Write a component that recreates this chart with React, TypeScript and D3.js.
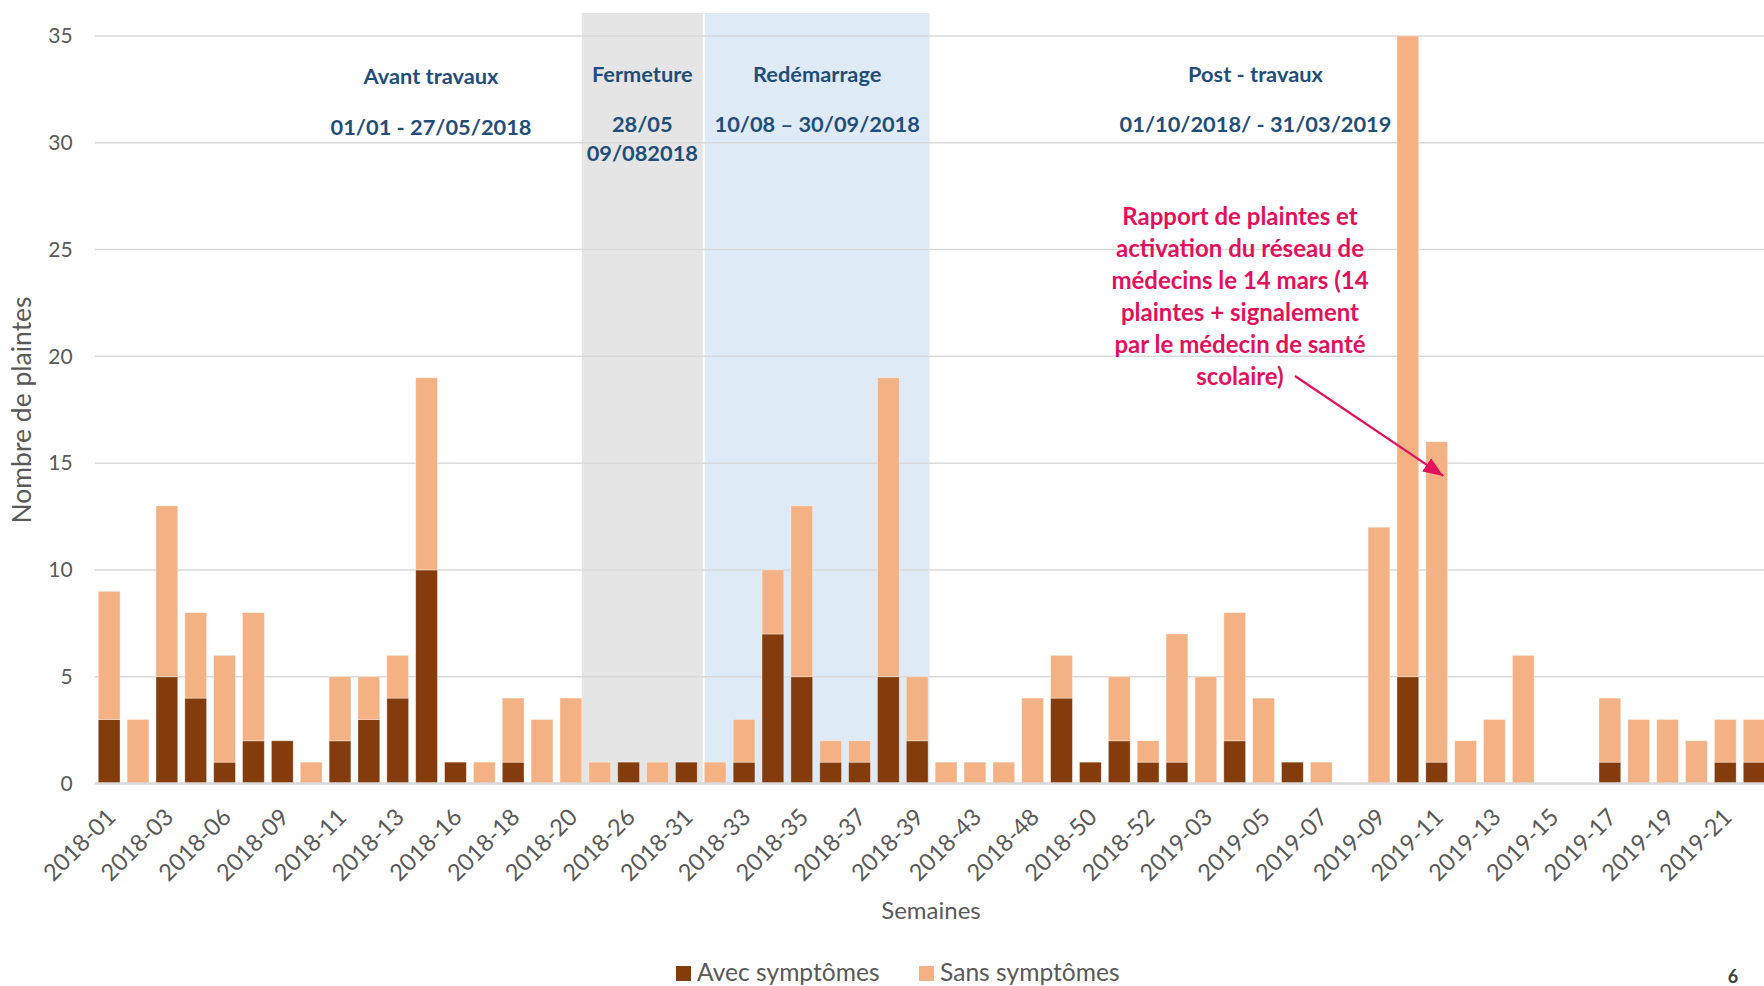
import { useMemo } from "react";
import * as d3 from "d3";

// Plaintes hebdomadaires, empilées : avec / sans symptômes
const WIDTH = 1764;
const HEIGHT = 986;
const PLOT = { left: 94.7, right: 1768.6, top: 36, bottom: 783.5 };

const semaines = [
  "2018-01", "2018-02", "2018-03", "2018-04", "2018-06", "2018-07", "2018-09", "2018-10",
  "2018-11", "2018-12", "2018-13", "2018-14", "2018-16", "2018-17", "2018-18", "2018-19",
  "2018-20", "2018-23", "2018-26", "2018-28", "2018-31", "2018-32", "2018-33", "2018-34",
  "2018-35", "2018-36", "2018-37", "2018-38", "2018-39", "2018-41", "2018-43", "2018-45",
  "2018-48", "2018-49", "2018-50", "2018-51", "2018-52", "2019-02", "2019-03", "2019-04",
  "2019-05", "2019-06", "2019-07", "2019-08", "2019-09", "2019-10", "2019-11", "2019-12",
  "2019-13", "2019-14", "2019-15", "2019-16", "2019-17", "2019-18", "2019-19", "2019-20",
  "2019-21", "2019-22",
];

const avecSymptomes = [
  3, 0, 5, 4, 1, 2, 2, 0, 2, 3, 4, 10, 1, 0, 1, 0,
  0, 0, 1, 0, 1, 0, 1, 7, 5, 1, 1, 5, 2, 0, 0, 0,
  0, 4, 1, 2, 1, 1, 0, 2, 0, 1, 0, 0, 0, 5, 1, 0,
  0, 0, 0, 0, 1, 0, 0, 0, 1, 1,
];

const sansSymptomes = [
  6, 3, 8, 4, 5, 6, 0, 1, 3, 2, 2, 9, 0, 1, 3, 3,
  4, 1, 0, 1, 0, 1, 2, 3, 8, 1, 1, 14, 3, 1, 1, 1,
  4, 2, 0, 3, 1, 6, 5, 6, 4, 0, 1, 0, 12, 30, 15, 2,
  3, 6, 0, 0, 3, 3, 3, 2, 2, 2,
];

const yTicks = [0, 5, 10, 15, 20, 25, 30, 35];
const series = ["Avec symptômes", "Sans symptômes"];
const couleurs = ["#843C0C", "#F4B183"];

const noteLignes = [
  "Rapport de plaintes et",
  "activation du réseau de",
  "médecins le 14 mars (14",
  "plaintes + signalement",
  "par le médecin de santé",
  "scolaire)",
];

const FONT = "Lato, 'Open Sans', sans-serif";
const BLEU = "#1F4E79";
const ROSE = "#E2115C";

export default function App() {
  const x = useMemo(
    () =>
      d3
        .scaleBand<string>()
        .domain(semaines)
        .range([PLOT.left, PLOT.right])
        .paddingInner(0.245)
        .paddingOuter(0.1225),
    []
  );
  const y = useMemo(() => d3.scaleLinear().domain([0, 35]).range([PLOT.bottom, PLOT.top]), []);

  const stacked = useMemo(() => {
    const rows = semaines.map((s, i) => ({ semaine: s, avec: avecSymptomes[i], sans: sansSymptomes[i] }));
    return d3.stack<any>().keys(["avec", "sans"])(rows);
  }, []);

  const bw = x.bandwidth();
  // zones grisée (fermeture) et bleue (redémarrage)
  const fermX0 = (x("2018-20") as number) + bw;
  const fermX1 = (x("2018-32") as number) - 1.5;
  const redX0 = (x("2018-32") as number) + 0.5;
  const redX1 = (x("2018-39") as number) + bw + 1.5;
  const zoneTop = PLOT.top - 23;

  const tipX = (x("2019-11") as number) + bw * 0.8;
  const tipY = y(14.4);

  return (
    <div style={{ position: "fixed", left: 0, top: 0, width: WIDTH, height: HEIGHT, background: "#fff" }}>
      <svg width={WIDTH} height={HEIGHT} style={{ display: "block", fontFamily: FONT }}>
        <defs>
          <marker id="fleche" markerUnits="userSpaceOnUse" markerWidth="22" markerHeight="16" refX="20" refY="8" orient="auto">
            <path d="M0,0 L20,8 L0,16 z" fill={ROSE} />
          </marker>
        </defs>

        <rect x={fermX0} y={zoneTop} width={fermX1 - fermX0} height={PLOT.bottom - zoneTop} fill="#E5E5E5" />
        <rect x={redX0} y={zoneTop} width={redX1 - redX0} height={PLOT.bottom - zoneTop} fill="#DEEAF6" />

        {yTicks.map((t) => (
          <g key={t}>
            {t > 0 && (
              <line x1={PLOT.left} x2={WIDTH} y1={y(t)} y2={y(t)} stroke="#D9D9D9" strokeWidth={1.5} />
            )}
            <text x={PLOT.left - 22} y={y(t)} dy="0.35em" textAnchor="end" fontSize={21} fill="#595959">
              {t}
            </text>
          </g>
        ))}

        {stacked.map((layer, k) => (
          <g key={layer.key} fill={couleurs[k]}>
            {layer.map((d, i) =>
              d[1] - d[0] > 0 ? (
                <rect
                  key={i}
                  x={x(semaines[i])}
                  y={y(d[1])}
                  width={bw}
                  height={y(d[0]) - y(d[1])}
                  stroke="#ffffff"
                  strokeOpacity={0.45}
                  strokeWidth={0.8}
                />
              ) : null
            )}
          </g>
        ))}

        <line x1={PLOT.left} x2={WIDTH} y1={PLOT.bottom} y2={PLOT.bottom} stroke="#D9D9D9" strokeWidth={2.5} />

        {semaines
          .filter((_, i) => i % 2 === 0)
          .map((s) => {
            const cx = (x(s) as number) + bw / 2;
            return (
              <text
                key={s}
                transform={`translate(${cx + 8},${PLOT.bottom + 35}) rotate(-45)`}
                textAnchor="end"
                fontSize={23.5}
                fill="#595959"
              >
                {s}
              </text>
            );
          })}

        <text
          transform={`translate(31,410) rotate(-90)`}
          textAnchor="middle"
          fontSize={26.5}
          fill="#595959"
        >
          Nombre de plaintes
        </text>
        <text x={931} y={919} textAnchor="middle" fontSize={24} fill="#595959">
          Semaines
        </text>

        {/* périodes */}
        <g fill={BLEU} fontWeight="bold" fontSize={21.8} textAnchor="middle" style={{ whiteSpace: "pre" }}>
          <text x={431} y={84}>Avant travaux</text>
          <text x={431} y={135}>01/01 - 27/05/2018</text>
          <text x={(fermX0 + fermX1) / 2} y={82}>Fermeture</text>
          <text x={(fermX0 + fermX1) / 2} y={132}>28/05</text>
          <text x={(fermX0 + fermX1) / 2} y={161}>09/082018</text>
          <text x={(redX0 + redX1) / 2} y={82}>Redémarrage</text>
          <text x={(redX0 + redX1) / 2} y={132}>10/08 – 30/09/2018</text>
          <text x={1255.5} y={82}>Post -  travaux</text>
          <text x={1255.5} y={132}>01/10/2018/ - 31/03/2019</text>
        </g>

        <g fill={ROSE} fontWeight="bold" fontSize={24} textAnchor="middle">
          {noteLignes.map((l, i) => (
            <text key={i} x={1240} y={225 + i * 32}>
              {l}
            </text>
          ))}
        </g>
        <line x1={1295} y1={376} x2={tipX} y2={tipY} stroke={ROSE} strokeWidth={2.2} markerEnd="url(#fleche)" />

        {/* légende */}
        {series.map((s, i) => {
          const lx = i === 0 ? 676 : 919;
          return (
            <g key={s}>
              <rect x={lx} y={966} width={15} height={15} fill={couleurs[i]} />
              <text x={lx + 21} y={981} fontSize={24.6} fill="#595959">
                {s}
              </text>
            </g>
          );
        })}

        <text x={1733} y={983} textAnchor="middle" fontSize={18} fontWeight="bold" fill="#404040">
          6
        </text>
      </svg>
    </div>
  );
}
